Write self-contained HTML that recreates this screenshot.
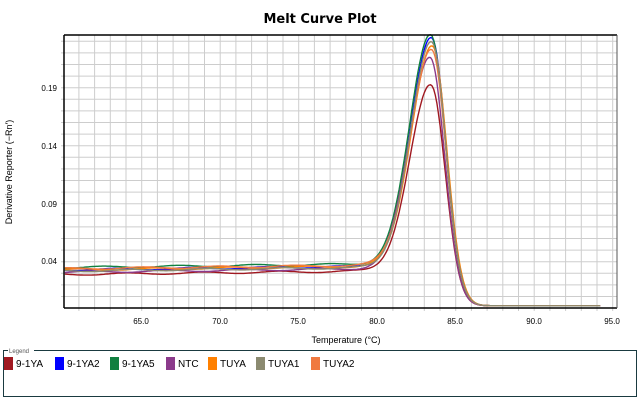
<!DOCTYPE html>
<html><head><meta charset="utf-8"><style>
body{margin:0;background:#fff;width:640px;height:400px;overflow:hidden;font-family:"Liberation Sans",sans-serif}
</style></head><body>
<svg id="s" width="640" height="400" xmlns="http://www.w3.org/2000/svg" font-family="Liberation Sans, sans-serif">
<text x="320" y="23" text-anchor="middle" font-size="13" font-weight="bold" font-family="DejaVu Sans, sans-serif">Melt Curve Plot</text>
<g id="grid"></g>
<g id="curves" fill="none" stroke-width="1.4"></g>
<line x1="64" y1="35" x2="617" y2="35" stroke="#000" stroke-width="1.5"/>
<line x1="64" y1="35" x2="64" y2="308" stroke="#000" stroke-width="1.5"/>
<line x1="64" y1="308" x2="617" y2="308" stroke="#000" stroke-width="1.5"/>
<line x1="617" y1="35" x2="617" y2="308" stroke="#555" stroke-width="1"/>
<g font-size="8" fill="#000" text-anchor="end">
<text x="57" y="91">0.19</text><text x="57" y="149">0.14</text><text x="57" y="207">0.09</text><text x="57" y="264">0.04</text>
</g>
<g font-size="8" fill="#000" text-anchor="middle">
<text x="141" y="324">65.0</text><text x="220" y="324">70.0</text><text x="298" y="324">75.0</text><text x="377" y="324">80.0</text><text x="455" y="324">85.0</text><text x="534" y="324">90.0</text><text x="612" y="324">95.0</text>
</g>
<text x="346" y="343" text-anchor="middle" font-size="9">Temperature (°C)</text>
<text transform="translate(12,172) rotate(-90)" text-anchor="middle" font-size="9">Derivative Reporter (−Rn′)</text>
<rect x="3.5" y="350.5" width="633" height="46" fill="none" stroke="#1a3a40" stroke-width="1"/>
<rect x="8" y="347" width="26" height="6" fill="#fff"/>
<text x="9" y="353" font-size="6" fill="#555">Legend</text>
<g font-size="10">
<rect x="4" y="357" width="9" height="13" fill="#a01820"/><text x="16" y="367">9-1YA</text>
<rect x="55" y="357" width="9" height="13" fill="#0000ff"/><text x="67" y="367">9-1YA2</text>
<rect x="110" y="357" width="9" height="13" fill="#108040"/><text x="122" y="367">9-1YA5</text>
<rect x="166" y="357" width="9" height="13" fill="#8b3a8b"/><text x="178" y="367">NTC</text>
<rect x="208" y="357" width="9" height="13" fill="#ff8000"/><text x="220" y="367">TUYA</text>
<rect x="256" y="357" width="9" height="13" fill="#8b8a70"/><text x="268" y="367">TUYA1</text>
<rect x="311" y="357" width="9" height="13" fill="#f07a40"/><text x="323" y="367">TUYA2</text>
</g>
</svg>
<script>
function X(t){return 141.7+(t-65)*15.7;}
function Y(v){return 261.7-(v-0.04)*1160;}
var g=document.getElementById('grid'),h='';
for(var t=61;t<=95;t++){var x=X(t);h+='<line x1="'+x+'" y1="35" x2="'+x+'" y2="311" stroke="#cdcdcd"/>';}
for(var i=1;i<=23;i++){var y=Y(i/100);h+='<line x1="61" y1="'+y+'" x2="617" y2="'+y+'" stroke="#cdcdcd"/>';}
g.innerHTML=h;
var S=[["#a01820",0.19,0.027,83.45],["#0000ff",0.232,0.031,83.5],["#108040",0.235,0.033,83.45],["#8b3a8b",0.215,0.029,83.4],["#ff8000",0.226,0.031,83.55],["#f07a40",0.222,0.032,83.5],["#8b8a70",0.228,0.030,83.5]];
var c=document.getElementById('curves'),o='';
S.forEach(function(s,k){var d='';for(var t=60.1;t<=94.2;t+=0.1){
var base=(s[2]+0.00015*(t-60)+0.0008*Math.sin(t*1.3+k))/(1+Math.exp((t-84.3)/0.45))+0.002;
var dd=t-s[3],sg=dd<0?1.35:0.9;var v=base+(s[1]-s[2])*Math.exp(-dd*dd/(2*sg*sg));
d+=(d?'L':'M')+X(t).toFixed(1)+' '+Y(v).toFixed(1);}
o+='<path d="'+d+'" stroke="'+s[0]+'"/>';});
c.innerHTML=o;
</script>
</body></html>
